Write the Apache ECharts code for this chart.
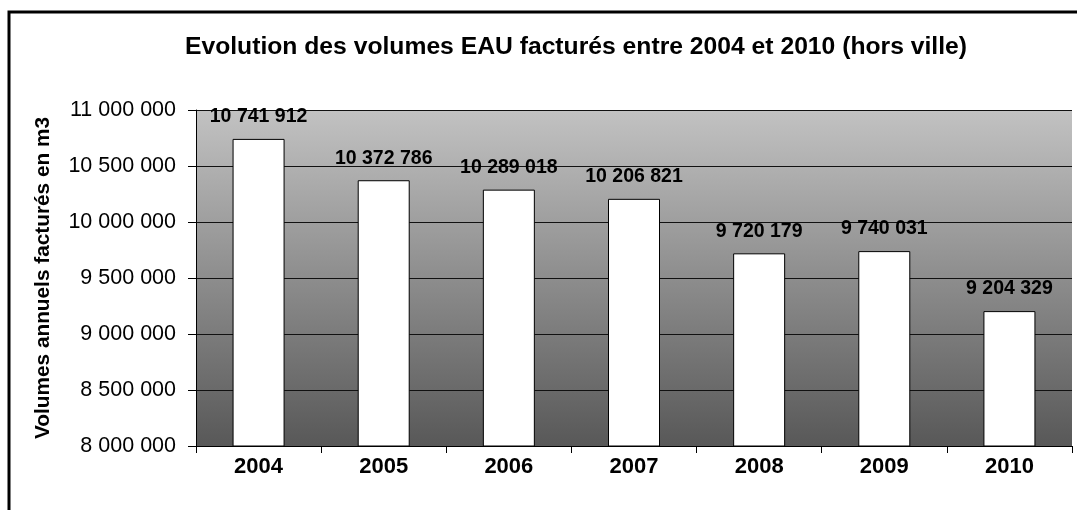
<!DOCTYPE html>
<html>
<head>
<meta charset="utf-8">
<script src="https://cdn.jsdelivr.net/npm/echarts@6/dist/echarts.min.js"></script>
<style>
  html, body { margin: 0; padding: 0; background: #ffffff; }
  #main { width: 1077px; height: 510px; }
</style>
</head>
<body>
<div id="main"></div>
<script>
var years = ["2004", "2005", "2006", "2007", "2008", "2009", "2010"];
var volumes = [10741912, 10372786, 10289018, 10206821, 9720179, 9740031, 9204329];

// espace comme séparateur de milliers
function fmt(v) {
  return String(v).replace(/\B(?=(\d{3})+(?!\d))/g, " ");
}

var myChart = echarts.init(document.getElementById("main"));
var option = {
  animation: false,
  textStyle: { fontFamily: "Liberation Sans, Arial, sans-serif" },
  graphic: [
    {
      type: "rect",
      shape: { x: 9, y: 12, width: 1200, height: 700 },
      style: { fill: "none", stroke: "#000", lineWidth: 3 },
      z: 100
    }
  ],
  title: {
    text: "Evolution des volumes EAU facturés entre 2004 et 2010 (hors ville)",
    left: 571,
    textAlign: "center",
    top: 30,
    textStyle: { fontSize: 24.7, fontWeight: "bold", color: "#000" }
  },
  grid: {
    left: 196,
    top: 110,
    width: 876,
    height: 336,
    show: true,
    borderWidth: 0,
    backgroundColor: new echarts.graphic.LinearGradient(0, 0, 0, 1, [
      { offset: 0, color: "#c2c2c2" },
      { offset: 1, color: "#585858" }
    ])
  },
  xAxis: {
    type: "category",
    data: years,
    axisLine: { lineStyle: { color: "#000", width: 1 } },
    axisTick: { show: true, length: 7, lineStyle: { color: "#000" } },
    axisLabel: { fontSize: 22, fontWeight: "bold", color: "#000", margin: 10 }
  },
  yAxis: {
    type: "value",
    min: 8000000,
    max: 11000000,
    interval: 500000,
    name: "Volumes annuels facturés en m3",
    nameLocation: "middle",
    nameGap: 142,
    nameTextStyle: { fontSize: 20.8, fontWeight: "bold", color: "#000" },
    axisLine: { show: true, lineStyle: { color: "#000" } },
    axisTick: { show: true, length: 8, lineStyle: { color: "#000" } },
    axisLabel: { fontSize: 21.5, color: "#000", margin: 20, formatter: fmt },
    splitLine: { show: true, lineStyle: { color: "#111", width: 1 } }
  },
  series: [
    {
      type: "bar",
      data: volumes,
      barWidth: 52,
      itemStyle: { color: "#ffffff", borderColor: "#000", borderWidth: 1 },
      label: {
        show: true,
        position: "top",
        distance: 12,
        fontSize: 19.5,
        fontWeight: "bold",
        color: "#000",
        formatter: function (p) { return fmt(p.value); }
      }
    }
  ]
};
option && myChart.setOption(option);
</script>
</body>
</html>
